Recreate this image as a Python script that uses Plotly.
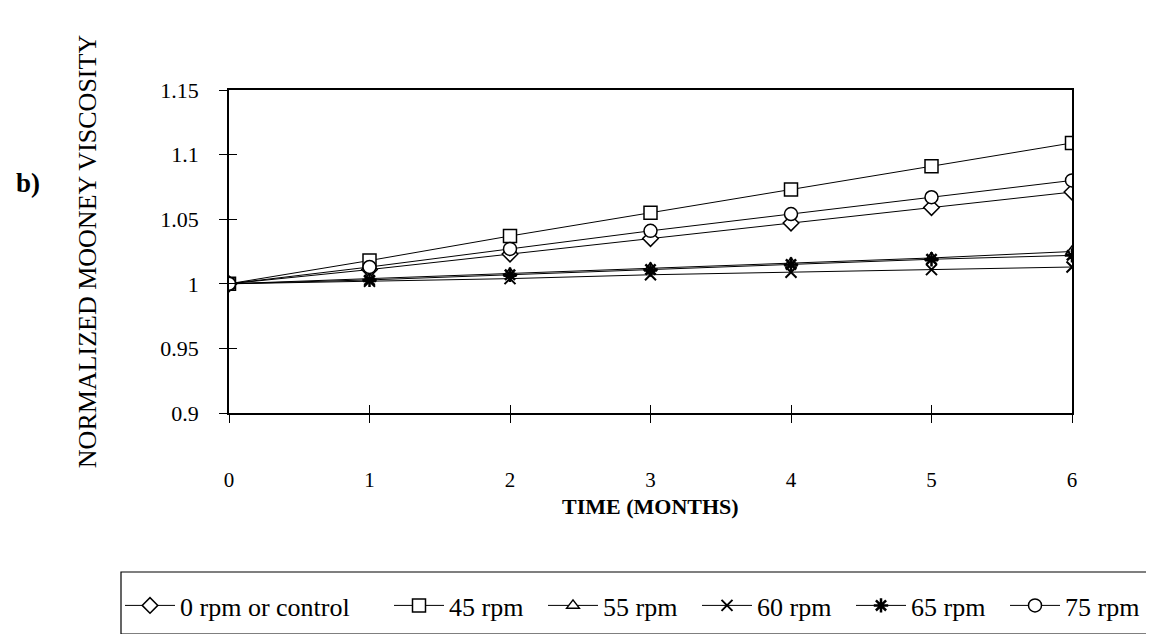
import plotly.graph_objects as go

months = [0, 1, 2, 3, 4, 5, 6]
x_tick_labels = ["0", "1", "2", "3", "4", "5", "6"]
y_tick_vals = [0.9, 0.95, 1.0, 1.05, 1.1, 1.15]
y_tick_labels = ["0.9", "0.95", "1", "1.05", "1.1", "1.15"]

rpm_0 = [1.0, 1.011, 1.023, 1.035, 1.047, 1.059, 1.071]
rpm_45 = [1.0, 1.018, 1.037, 1.055, 1.073, 1.091, 1.109]
rpm_55 = [1.0, 1.004, 1.008, 1.012, 1.016, 1.020, 1.025]
rpm_60 = [1.0, 1.002, 1.004, 1.007, 1.009, 1.011, 1.013]
rpm_65 = [1.0, 1.003, 1.007, 1.011, 1.015, 1.019, 1.022]
rpm_75 = [1.0, 1.013, 1.027, 1.041, 1.054, 1.067, 1.080]

series_names = ["0 rpm or control", "45 rpm", "55 rpm", "60 rpm", "65 rpm", "75 rpm"]
series_values = [rpm_0, rpm_45, rpm_55, rpm_60, rpm_65, rpm_75]
symbols = ["diamond", "square", "triangle-up", "x-thin", "asterisk", "circle"]
sizes = [12, 13, 11, 11, 12, 13]
mlw = [1.5, 1.5, 1.5, 2, 2.5, 1.5]
legend_ids = ["legend", "legend2", "legend2", "legend2", "legend2", "legend2"]

fig = go.Figure()
for name, vals, sym, sz, lw, lg in zip(series_names, series_values, symbols, sizes, mlw, legend_ids):
    fig.add_trace(go.Scatter(
        x=months, y=vals, name=name, mode="lines+markers", legend=lg,
        line=dict(color="black", width=1),
        marker=dict(symbol=sym, size=sz, color="white",
                    line=dict(color="black", width=lw)),
    ))

serif = "Liberation Serif, Times New Roman, serif"

# page body has an 8px default margin; target plot area on screen: x 229-1072, y 90-413
PX0, PW, PY0, PH = 229, 843, 90, 323

def px(xs):
    return (xs - PX0) / PW

def py(ys):
    return (PY0 + PH - ys) / PH

legend_common = dict(orientation="h", yanchor="top", xanchor="left",
                     font=dict(family=serif, size=26, color="black"),
                     bgcolor="rgba(0,0,0,0)", borderwidth=0, itemwidth=50,
                     traceorder="normal")

fig.update_layout(
    width=1154, height=634,
    margin=dict(l=PX0 - 8, r=1154 - (PX0 + PW) + 8, t=PY0 - 8, b=634 - (PY0 + PH) + 8,
                autoexpand=False),
    paper_bgcolor="white", plot_bgcolor="white",
    font=dict(family=serif, color="black", size=20),
    showlegend=True,
    legend=dict(x=px(120), y=py(582), **legend_common),
    legend2=dict(x=px(389), y=py(582), entrywidth=89, entrywidthmode="pixels",
                 **legend_common),
    xaxis=dict(range=[0, 6], tickvals=months, ticktext=x_tick_labels,
               showline=True, linecolor="black", linewidth=1.5, mirror=True,
               ticks="outside", ticklen=8, tickcolor="black", tickwidth=1,
               ticklabelstandoff=39, showgrid=False, zeroline=False,
               tickfont=dict(family=serif, size=21)),
    yaxis=dict(range=[0.9, 1.15], tickvals=y_tick_vals, ticktext=y_tick_labels,
               showline=True, linecolor="black", linewidth=1.5, mirror=True,
               ticks="outside", ticklen=8, tickcolor="black", tickwidth=1,
               ticklabelstandoff=16, showgrid=False, zeroline=False,
               tickfont=dict(family=serif, size=22),
               title=dict(text="NORMALIZED MOONEY VISCOSITY",
                          font=dict(family=serif, size=26), standoff=56)),
    xaxis2=dict(overlaying="x", matches="x", range=[0, 6], tickvals=months,
                ticks="inside", ticklen=8, tickcolor="black", showticklabels=False,
                showgrid=False, zeroline=False, showline=False, side="bottom", anchor="y"),
    yaxis2=dict(overlaying="y", matches="y", range=[0.9, 1.15], tickvals=y_tick_vals,
                ticks="inside", ticklen=8, tickcolor="black", showticklabels=False,
                showgrid=False, zeroline=False, showline=False, side="left", anchor="x"),
    shapes=[dict(type="rect", xref="paper", yref="paper",
                 x0=px(121), x1=px(1170), y0=py(634), y1=py(572),
                 line=dict(color="black", width=1.2), fillcolor="rgba(0,0,0,0)")],
    annotations=[
        dict(text="<b>b)</b>", xref="paper", yref="paper",
             x=px(28), y=py(183), xanchor="center", yanchor="middle",
             showarrow=False, font=dict(family=serif, size=27, color="black")),
        dict(text="<b>TIME (MONTHS)</b>", xref="paper", yref="paper",
             x=px(650), y=py(506), xanchor="center", yanchor="middle",
             showarrow=False, font=dict(family=serif, size=22, color="black")),
    ],
)

# invisible trace to activate overlay axes for crossing ticks
fig.add_trace(go.Scatter(x=[None], y=[None], xaxis="x2", yaxis="y2",
                         showlegend=False, hoverinfo="skip"))

fig.write_html("out.html")
